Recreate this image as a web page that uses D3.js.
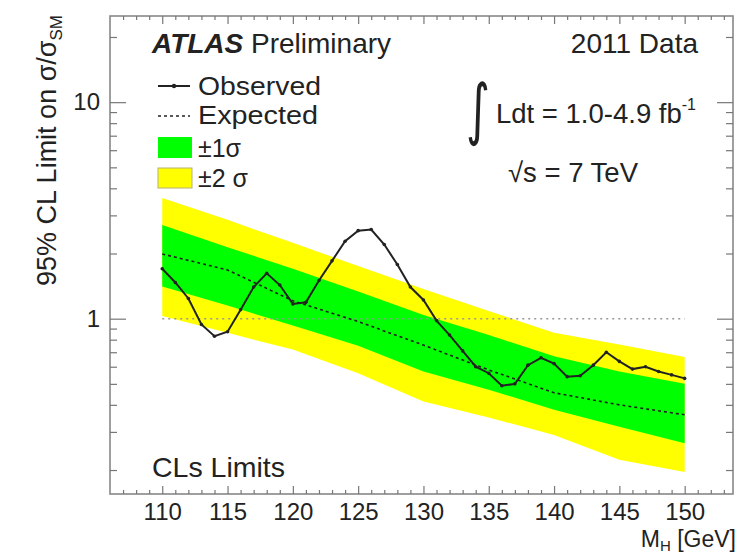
<!DOCTYPE html>
<html>
<head>
<meta charset="utf-8">
<script src="https://cdn.jsdelivr.net/npm/d3@7"></script>
<style>
  html, body { margin: 0; padding: 0; background: #fff; }
  svg { display: block; font-family: "Liberation Sans", Arial, Helvetica, sans-serif; }
</style>
</head>
<body>
<svg id="chart" width="739" height="555"></svg>
<script>
// Higgs mass points (GeV) of the observed limit scan
const obsMass = [110, 111, 112, 113, 114, 115, 116, 117, 118, 119,
                 120, 121, 122, 123, 124, 125, 126, 127, 128, 129,
                 130, 131, 132, 133, 134, 135, 136, 137, 138, 139,
                 140, 141, 142, 143, 144, 145, 146, 147, 148, 149, 150];
// observed 95% CL limit on sigma/sigma_SM
const observed = [1.70, 1.47, 1.24, 0.94, 0.83, 0.87, 1.10, 1.40, 1.62, 1.43,
                  1.17, 1.19, 1.50, 1.85, 2.28, 2.55, 2.58, 2.20, 1.78, 1.40,
                  1.22, 0.98, 0.84, 0.71, 0.60, 0.56, 0.49, 0.50, 0.61, 0.66,
                  0.62, 0.54, 0.545, 0.61, 0.70, 0.635, 0.585, 0.60, 0.57, 0.55, 0.53];

// mass points of the expected limit and its bands
const bandMass = [110, 115, 120, 125, 130, 135, 140, 145, 150];
const expected = [1.99, 1.68, 1.21, 0.97, 0.755, 0.58, 0.455, 0.40, 0.36];
const oneSigmaLow = [1.41, 1.15, 0.93, 0.75, 0.57, 0.47, 0.38, 0.317, 0.266];
const oneSigmaHigh = [2.71, 2.14, 1.70, 1.335, 1.04, 0.84, 0.67, 0.57, 0.50];
const twoSigmaLow = [1.03, 0.86, 0.72, 0.56, 0.415, 0.35, 0.29, 0.223, 0.196];
const twoSigmaHigh = [3.61, 2.86, 2.24, 1.75, 1.37, 1.085, 0.86, 0.76, 0.666];

// axis ticks
const xTickLabels = [110, 115, 120, 125, 130, 135, 140, 145, 150];
const xMinorTicks = [107, 108, 109, 111, 112, 113, 114, 116, 117, 118, 119,
                     121, 122, 123, 124, 126, 127, 128, 129, 131, 132, 133, 134,
                     136, 137, 138, 139, 141, 142, 143, 144, 146, 147, 148, 149,
                     151, 152, 153];
const yTickLabels = [1, 10];
const yMinorTicks = [0.2, 0.3, 0.4, 0.5, 0.6, 0.7, 0.8, 0.9,
                     2, 3, 4, 5, 6, 7, 8, 9, 20];

const limitPlot = (function () {
    "use strict";

    const svg = d3.select("#chart");
    const frame = { left: 110, right: 733, top: 16, bottom: 494 };
    const ink = "#222";
    const tickColor = "#777";

    const x = d3.scaleLinear().domain([106, 153.7]).range([frame.left, frame.right]);
    const y = d3.scaleLog().domain([0.155, 25]).range([frame.bottom, frame.top]);

    /**
     * Draw one tick set; negative sizes point the ticks into the frame.
     */
    function tickSet(axis, values, size, transform, labels) {
        const g = svg.append("g")
            .attr("transform", transform)
            .call(axis.tickValues(values).tickSize(size)
                      .tickFormat(labels ? (d) => d : () => ""));
        g.select(".domain").remove();
        g.selectAll(".tick line").attr("stroke", tickColor).attr("stroke-width", 1.2);
        return g;
    }

    function drawBands() {
        const rows = bandMass.map((m, i) => ({
            m: m,
            exp: expected[i],
            lo1: oneSigmaLow[i], hi1: oneSigmaHigh[i],
            lo2: twoSigmaLow[i], hi2: twoSigmaHigh[i]
        }));
        const band = (lo, hi) => d3.area()
            .x((d) => x(d.m))
            .y0((d) => y(d[lo]))
            .y1((d) => y(d[hi]));

        svg.append("path").datum(rows).attr("fill", "#ffff00").attr("d", band("lo2", "hi2"));
        svg.append("path").datum(rows).attr("fill", "#00ff00").attr("d", band("lo1", "hi1"));

        // reference line at sigma/sigma_SM = 1
        svg.append("line")
            .attr("x1", x(bandMass[0])).attr("x2", x(bandMass[bandMass.length - 1]))
            .attr("y1", y(1)).attr("y2", y(1))
            .attr("stroke", "#999").attr("stroke-width", 1.6)
            .attr("stroke-dasharray", "2,4");

        svg.append("path").datum(rows)
            .attr("fill", "none").attr("stroke", ink).attr("stroke-width", 1.6)
            .attr("stroke-dasharray", "3,3")
            .attr("d", d3.line().x((d) => x(d.m)).y((d) => y(d.exp)));
    }

    function drawObserved() {
        const pts = obsMass.map((m, i) => ({ m: m, v: observed[i] }));
        svg.append("path").datum(pts)
            .attr("fill", "none").attr("stroke", ink).attr("stroke-width", 2)
            .attr("d", d3.line().x((d) => x(d.m)).y((d) => y(d.v)));
        svg.append("g").selectAll("circle")
            .data(pts)
            .join("circle")
            .attr("cx", (d) => x(d.m)).attr("cy", (d) => y(d.v))
            .attr("r", 1.8).attr("fill", ink);
    }

    function drawAxes() {
        svg.append("rect")
            .attr("x", frame.left).attr("y", frame.top)
            .attr("width", frame.right - frame.left).attr("height", frame.bottom - frame.top)
            .attr("fill", "none").attr("stroke", "#888").attr("stroke-width", 1.6);

        const bottom = `translate(0,${frame.bottom})`;
        const top = `translate(0,${frame.top})`;
        const left = `translate(${frame.left},0)`;
        const right = `translate(${frame.right},0)`;

        const xLab = tickSet(d3.axisBottom(x).tickPadding(9), xTickLabels, -8, bottom, true);
        tickSet(d3.axisBottom(x), xMinorTicks, -4, bottom, false);
        tickSet(d3.axisTop(x), xTickLabels, -8, top, false);
        tickSet(d3.axisTop(x), xMinorTicks, -4, top, false);

        const yLab = tickSet(d3.axisLeft(y).tickPadding(10), yTickLabels, -16, left, true);
        tickSet(d3.axisLeft(y), yMinorTicks, -7, left, false);
        tickSet(d3.axisRight(y), yTickLabels, -16, right, false);
        tickSet(d3.axisRight(y), yMinorTicks, -7, right, false);

        [xLab, yLab].forEach((g) => {
            g.selectAll("text")
                .attr("fill", ink)
                .style("font-family", "'Liberation Sans', Arial, sans-serif")
                .style("font-size", "24px");
        });

        // axis titles
        const xt = svg.append("text")
            .attr("x", 736).attr("y", 547)
            .attr("text-anchor", "end").attr("fill", ink).style("font-size", "23px");
        xt.append("tspan").text("M");
        xt.append("tspan").attr("dy", 4).style("font-size", "15px").text("H");
        xt.append("tspan").attr("dy", -4).text(" [GeV]");

        const yt = svg.append("text")
            .attr("transform", "translate(56,15) rotate(-90)")
            .attr("text-anchor", "end").attr("fill", ink).style("font-size", "27px");
        yt.append("tspan").text("95% CL Limit on σ/σ");
        yt.append("tspan").attr("dy", 6).style("font-size", "17px").text("SM");
    }

    /**
     * Place a label; when a width is given the glyphs are stretched to it.
     */
    function label(txt, px, py, size, width, extra) {
        const t = svg.append("text")
            .attr("x", px).attr("y", py)
            .attr("fill", ink).style("font-size", `${size}px`)
            .text(txt);
        if (width) t.attr("textLength", width).attr("lengthAdjust", "spacingAndGlyphs");
        if (extra) extra(t);
        return t;
    }

    function drawLegend() {
        const atlas = svg.append("text").attr("x", 152).attr("y", 53)
            .attr("fill", ink).style("font-size", "28px");
        atlas.append("tspan").style("font-weight", "bold").style("font-style", "italic").text("ATLAS");
        atlas.append("tspan").text(" Preliminary");

        label("2011 Data", 698, 53, 28, null, (t) => t.attr("text-anchor", "end"));

        // Observed / Expected entries
        svg.append("line").attr("x1", 158).attr("x2", 190).attr("y1", 86).attr("y2", 86)
            .attr("stroke", ink).attr("stroke-width", 2);
        svg.append("circle").attr("cx", 174).attr("cy", 86).attr("r", 2.2).attr("fill", ink);
        label("Observed", 198, 95, 25.5, 123);

        svg.append("line").attr("x1", 158).attr("x2", 190).attr("y1", 116).attr("y2", 116)
            .attr("stroke", ink).attr("stroke-width", 1.6).attr("stroke-dasharray", "3,3");
        label("Expected", 198, 124, 25.5, 120);

        svg.append("rect").attr("x", 158).attr("y", 137).attr("width", 34).attr("height", 21)
            .attr("fill", "#00ff00");
        label("±1σ", 198, 157, 25);
        svg.append("rect").attr("x", 158).attr("y", 168).attr("width", 34).attr("height", 20)
            .attr("fill", "#ffff00").attr("stroke", "#b8b070").attr("stroke-width", 1);
        label("±2 σ", 198, 187, 25);

        // luminosity and energy
        svg.append("text")
            .attr("transform", "translate(466,132) scale(1,1.45)")
            .attr("fill", ink).style("font-family", "'DejaVu Sans', sans-serif")
            .style("font-size", "46px").text("∫");
        label("Ldt = 1.0-4.9 fb", 496, 123, 27.5, null, (t) => {
            t.append("tspan").attr("dy", -13).style("font-size", "16px").text("-1");
        });
        label("√s = 7 TeV", 508, 182, 27.5);

        label("CLs Limits", 152, 477, 28.5);
    }

    function init() {
        drawBands();
        drawObserved();
        drawAxes();
        drawLegend();
    }

    return { init: init };
})();

limitPlot.init();
</script>
</body>
</html>
